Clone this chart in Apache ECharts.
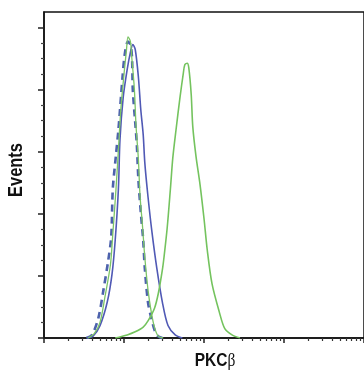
<!DOCTYPE html>
<html>
<head>
<meta charset="utf-8">
<script src="https://cdn.jsdelivr.net/npm/echarts@6/dist/echarts.min.js"></script>
<style>
  html, body { margin: 0; padding: 0; background: #fff; }
  #chart { width: 364px; height: 371px; }
</style>
</head>
<body>
<div id="chart"></div>
<script>
// x values are log10 of fluorescence intensity (decades), y values are event counts
var stainedX  = [0.55, 0.61, 0.70, 0.79, 0.85, 0.89, 0.93, 0.95, 0.99, 1.04, 1.08, 1.11, 1.14, 1.18, 1.21, 1.24, 1.26, 1.30, 1.35, 1.41, 1.48, 1.55, 1.64, 1.73];
var stainedY  = [0, 1, 8, 23, 41, 63, 96, 128, 155, 173, 184, 189, 186, 168, 147, 131, 113, 91, 68, 45, 23, 8, 2, 0];

var dashedX   = [0.53, 0.60, 0.68, 0.74, 0.80, 0.84, 0.86, 0.90, 0.93, 0.98, 1.01, 1.05, 1.08, 1.10, 1.11, 1.14, 1.16, 1.18, 1.21, 1.24, 1.26, 1.30, 1.34, 1.39, 1.43, 1.48];
var dashedY   = [0, 2, 13, 30, 49, 65, 96, 118, 134, 167, 183, 191, 189, 181, 160, 139, 125, 102, 81, 63, 45, 23, 13, 4, 1, 0];

var controlX  = [0.55, 0.63, 0.70, 0.76, 0.83, 0.86, 0.90, 0.93, 0.96, 1.00, 1.03, 1.05, 1.08, 1.10, 1.13, 1.15, 1.18, 1.20, 1.23, 1.26, 1.30, 1.34, 1.38, 1.43, 1.49];
var controlY  = [0, 3, 10, 26, 47, 67, 96, 121, 147, 170, 185, 194, 191, 179, 160, 137, 115, 92, 73, 52, 31, 17, 7, 1, 0];

var pkcX      = [0.89, 1.04, 1.14, 1.24, 1.30, 1.38, 1.43, 1.48, 1.50, 1.54, 1.58, 1.61, 1.65, 1.70, 1.74, 1.76, 1.79, 1.81, 1.84, 1.86, 1.90, 1.95, 2.00, 2.04, 2.10, 2.19, 2.26, 2.35, 2.45];
var pkcY      = [0, 2, 4, 7, 11, 19, 29, 44, 52, 71, 96, 116, 134, 155, 170, 176, 177, 174, 157, 136, 117, 99, 77, 57, 35, 17, 6, 2, 0];

var majorX = [0, 1, 2, 3, 4];
var majorY = [0, 40, 80, 120, 160, 200];

function zip(xs, ys) {
  return xs.map(function (x, i) { return [x, ys[i]]; });
}

var minorX = [];
for (var d = 0; d < 4; d++) {
  for (var k = 2; k <= 9; k++) minorX.push(d + Math.log10(k));
}
var minorY = [];
for (var v = 0; v < 210; v += 10) {
  if (v % 40 !== 0) minorY.push(v);
}

var chart = echarts.init(document.getElementById('chart'));

var axisLine = { show: true, lineStyle: { color: '#111', width: 1.5 } };
var sansFont = '"Liberation Sans", Arial, sans-serif';

var option = {
  animation: false,
  grid: {
    left: 44, top: 12, right: -2, bottom: 33,
    show: true, borderColor: '#111', borderWidth: 1.5, backgroundColor: 'transparent'
  },
  xAxis: [
    {
      type: 'value', min: 0, max: 4, position: 'bottom',
      axisLine: axisLine,
      axisTick: { show: true, inside: false, length: 5, customValues: majorX, lineStyle: { color: '#222', width: 1.5 } },
      axisLabel: { show: false },
      splitLine: { show: false }
    },
    {
      type: 'value', min: 0, max: 4, position: 'bottom', offset: 0,
      axisLine: { show: false },
      axisTick: { show: true, inside: false, length: 3, customValues: minorX, lineStyle: { color: '#333', width: 1.2 } },
      axisLabel: { show: false },
      splitLine: { show: false }
    }
  ],
  yAxis: [
    {
      type: 'value', min: 0, max: 210, position: 'left',
      axisLine: axisLine,
      axisTick: { show: true, inside: false, length: 6, customValues: majorY, lineStyle: { color: '#222', width: 1.5 } },
      axisLabel: { show: false },
      splitLine: { show: false }
    },
    {
      type: 'value', min: 0, max: 210, position: 'left', offset: 0,
      axisLine: { show: false },
      axisTick: { show: true, inside: false, length: 3, customValues: minorY, lineStyle: { color: '#444', width: 1.2 } },
      axisLabel: { show: false },
      splitLine: { show: false }
    }
  ],
  graphic: [
    {
      // condensed look: squeeze the text along its own direction
      type: 'text', x: 16, y: 170, rotation: Math.PI / 2, scaleX: 0.82,
      style: {
        text: 'Events', align: 'center', verticalAlign: 'middle', fill: '#111',
        font: 'bold 20px ' + sansFont
      }
    },
    {
      type: 'text', x: 215, y: 361, scaleX: 0.86,
      style: {
        text: '{a|PKC}{b|β}', align: 'center', verticalAlign: 'middle', fill: '#111',
        rich: {
          a: { fontFamily: sansFont, fontWeight: 'bold', fontSize: 18, fill: '#111' },
          b: { fontFamily: '"Liberation Serif", serif', fontWeight: 'normal', fontSize: 18, fill: '#111' }
        }
      }
    }
  ],
  series: [
    {
      name: 'PKCβ stained', type: 'line', data: zip(stainedX, stainedY),
      showSymbol: false, smooth: 0.3,
      lineStyle: { color: '#5059b5', width: 1.6 }
    },
    {
      name: 'Blocked', type: 'line', data: zip(dashedX, dashedY),
      showSymbol: false, smooth: 0.3,
      lineStyle: { color: '#4d62ad', width: 2.6, type: [7, 5] }
    },
    {
      name: 'Isotype control', type: 'line', data: zip(controlX, controlY),
      showSymbol: false, smooth: 0.3,
      lineStyle: { color: '#7cc466', width: 1.3 }
    },
    {
      name: 'PKCβ', type: 'line', data: zip(pkcX, pkcY),
      showSymbol: false, smooth: 0.3,
      lineStyle: { color: '#74c35e', width: 1.6 }
    }
  ]
};

chart.setOption(option);
</script>
</body>
</html>
